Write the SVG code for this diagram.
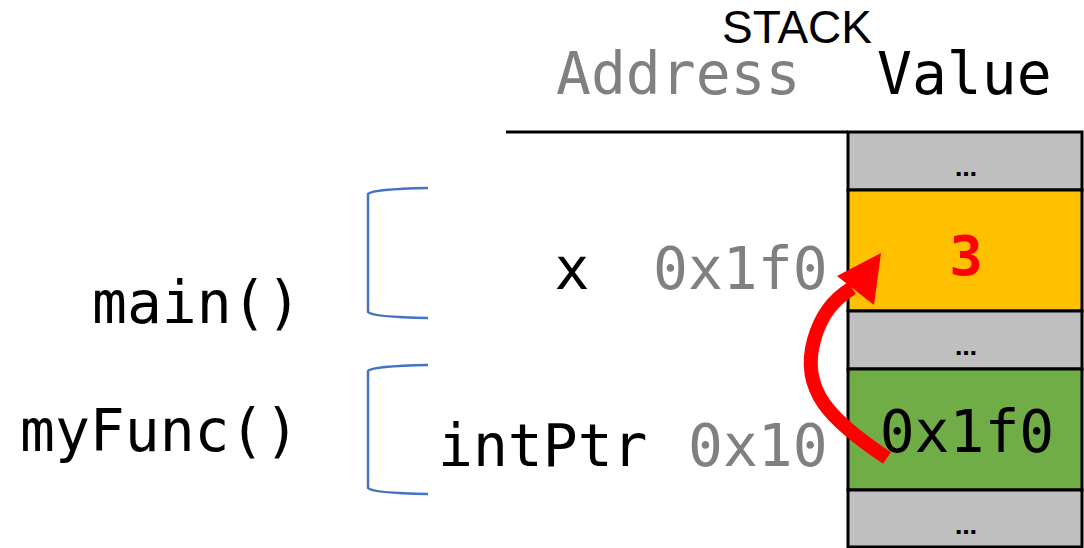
<svg xmlns="http://www.w3.org/2000/svg" width="1084" height="548" viewBox="0 0 1084 548">
<style>
.mono{font-family:"DejaVu Sans Mono","Liberation Mono",monospace;font-size:58px}
.gray{fill:#808080}
.blk{fill:#000}
.cell{stroke:#000;stroke-width:3}
.dots{font-family:"DejaVu Sans","Liberation Sans",sans-serif;font-size:22px;font-weight:bold;fill:#000;text-anchor:middle}
.brace{fill:none;stroke:#4472C4;stroke-width:2.5}
</style>
<rect width="1084" height="548" fill="#fff"/>
<g id="header">
<text x="797" y="43" font-family="Liberation Sans, Arial, sans-serif" font-size="46" text-anchor="middle">STACK</text>
<text class="mono gray" x="556" y="94">Address</text>
<text class="mono blk" x="877" y="94">Value</text>
<line x1="506" y1="132" x2="848" y2="132" stroke="#000" stroke-width="3"/>
</g>
<g id="cell1"><rect class="cell" x="848" y="132" width="234" height="58" fill="#BFBFBF"/><text class="dots" x="966" y="176">…</text></g>
<g id="cell-x"><rect class="cell" x="848" y="190" width="234" height="121" fill="#FFC000"/><text x="966" y="275" font-family="DejaVu Sans Mono, monospace" font-size="56" font-weight="bold" fill="#FF0000" text-anchor="middle">3</text></g>
<g id="cell3"><rect class="cell" x="848" y="311" width="234" height="58" fill="#BFBFBF"/><text class="dots" x="966" y="355">…</text></g>
<g id="cell-intPtr"><rect class="cell" x="848" y="369" width="234" height="121" fill="#70AD47"/><text class="mono blk" x="967" y="452" text-anchor="middle">0x1f0</text></g>
<g id="cell5"><rect class="cell" x="848" y="490" width="234" height="57" fill="#BFBFBF"/><text class="dots" x="966" y="534">…</text></g>
<g id="labels">
<text class="mono blk" x="572" y="289" text-anchor="middle">x</text>
<text class="mono gray" x="653" y="289">0x1f0</text>
<text class="mono blk" x="438" y="466">intPtr</text>
<text class="mono gray" x="688" y="466">0x10</text>
</g>
<g id="main"><path class="brace" d="M428,188 Q372,189 368,194 L368,312 Q372,317 428,318"/><text class="mono blk" x="92" y="323">main()</text></g>
<g id="myFunc"><path class="brace" d="M428,365 Q372,366 368,371 L368,488 Q372,493 428,494"/><text class="mono blk" x="20" y="451">myFunc()</text></g>
<g id="connectors">
<path d="M887,458 C830,420 800,390 814,340 C821,315 833,300 852,288" fill="none" stroke="#FF0000" stroke-width="14"/>
<polygon points="881,253 837,276 874,305" fill="#FF0000"/>
</g>
</svg>
